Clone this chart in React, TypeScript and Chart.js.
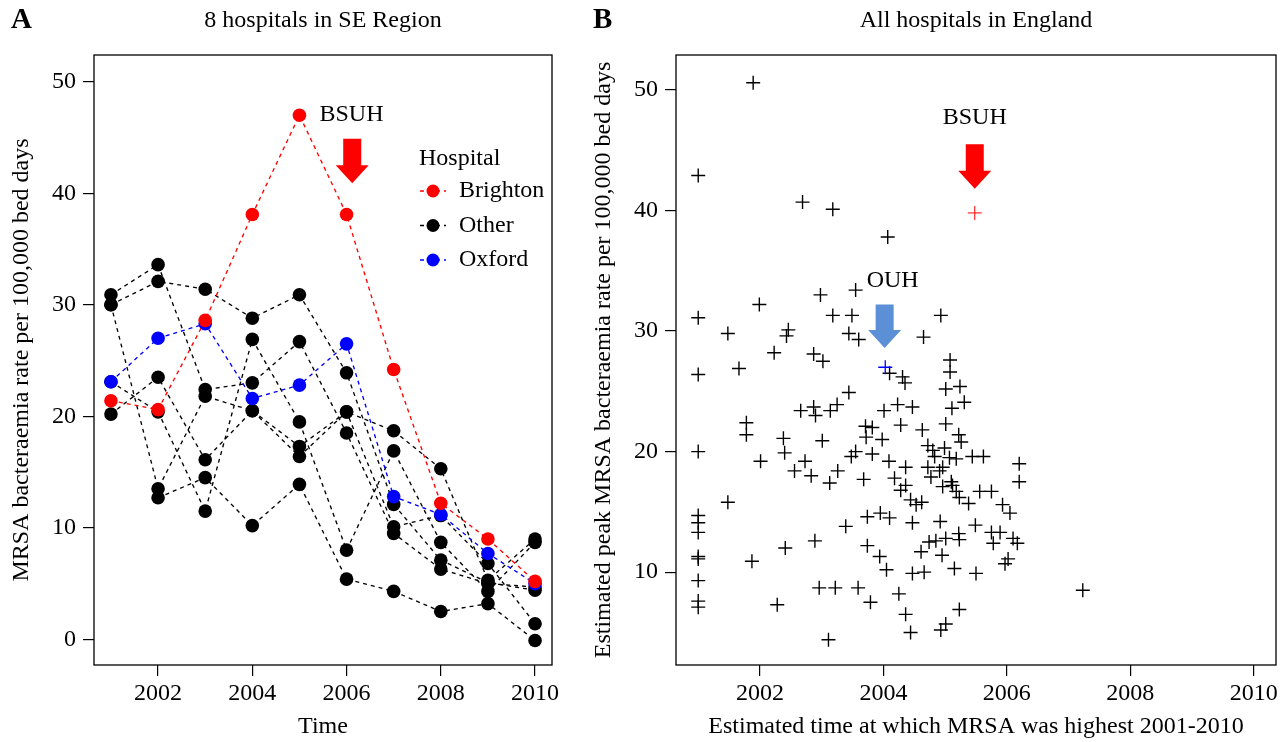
import React, { useEffect, useRef } from 'react';
import { Chart, registerables } from 'chart.js';

Chart.register(...registerables);

const FONT = '"Liberation Serif", "Times New Roman", serif';

// ---------- Panel A data ----------
const years = [2001, 2002, 2003, 2004, 2005, 2006, 2007, 2008, 2009, 2010];
const brighton = [21.4, 20.6, 28.6, 38.1, 47.0, 38.1, 24.2, 12.2, 9.0, 5.2];
const oxford = [23.1, 27.0, 28.3, 21.6, 22.8, 26.5, 12.8, 11.2, 7.7, 5.0];
const other1 = [30.9, 33.6, 22.4, 23.0, 26.7, 18.5, 9.5, 6.3, 5.0, 4.7];
const other2 = [30.0, 32.1, 31.4, 28.8, 30.9, 23.9, 12.1, 7.1, 5.1, 4.4];
const other3 = [30.0, 13.5, 21.8, 20.5, 17.3, 20.4, 18.7, 15.3, 5.3, 9.0];
const other4 = [23.1, 20.4, 11.5, 26.9, 19.5, 8.0, 16.9, 8.7, 4.3, 8.7];
const other5 = [20.2, 23.5, 16.1, 20.5, 16.4, 20.4, 10.1, 11.1, 6.8, 1.4];
const other6 = [null, 12.7, 14.5, 10.2, 13.9, 5.4, 4.3, 2.5, 3.2, -0.1];
const others = [other1, other2, other3, other4, other5, other6];

const xTickValues = [2002, 2004, 2006, 2008, 2010];
const yTicksA = [0, 10, 20, 30, 40, 50];
const yTicksB = [10, 20, 30, 40, 50];

// ---------- Panel B data ----------
const peakTime = [
  2001.89, 2001.0, 2002.69, 2003.18, 2004.07, 2003.55, 2002.98, 2001.99, 2001.0, 2004.93,
  2003.18, 2003.49, 2001.48, 2002.46, 2002.43, 2003.44, 2003.6, 2004.65, 2002.23, 2002.87,
  2003.02, 2005.08, 2004.1, 2004.31, 2004.35, 2001.0, 2001.66, 2005.08, 2005.24, 2005.01,
  2003.44, 2005.31, 2004.23, 2004.47, 2003.25, 2005.11, 2002.87, 2002.66, 2002.9, 2003.14,
  2004.01, 2001.78, 2001.78, 2005.01, 2004.28, 2003.71, 2003.82, 2004.63, 2005.22, 2005.26,
  2003.72, 2003.98, 2002.38, 2003.01, 2004.72, 2004.99, 2004.8, 2001.0, 2002.4, 2003.55,
  2003.82, 2003.48, 2004.83, 2005.07, 2005.18, 2005.44, 2005.62, 2002.01, 2002.73, 2004.09,
  2004.72, 2004.36, 2004.96, 2006.2, 2002.56, 2002.83, 2003.26, 2004.77, 2004.91, 2004.18,
  2003.68, 2003.13, 2006.2, 2005.1, 2005.12, 2004.36, 2004.96, 2004.28, 2005.18, 2005.56,
  2005.75, 2005.23, 2004.44, 2004.62, 2005.38, 2004.53, 2001.48, 2005.93, 2006.05, 2001.0,
  2001.0, 2001.0, 2003.74, 2003.95, 2004.1, 2004.47, 2004.92, 2005.49, 2003.39, 2005.22,
  2005.23, 2005.75, 2005.89, 2006.1, 2006.17, 2005.78, 2005.01, 2004.85, 2004.74, 2002.89,
  2003.74, 2002.41, 2004.61, 2003.94, 2004.95, 2001.0, 2001.0, 2001.87, 2006.02, 2005.97,
  2004.05, 2004.47, 2004.66, 2005.15, 2005.5, 2001.0, 2002.96, 2003.22, 2003.59, 2004.25,
  2001.0, 2001.0, 2002.28, 2003.79, 2005.23, 2004.36, 2005.01, 2004.93, 2004.44, 2003.11,
  2007.23,
];
const peakRate = [
  50.6, 42.9, 40.7, 40.1, 37.8, 33.4, 33.0, 32.2, 31.1, 31.3,
  31.3, 31.3, 29.8, 30.1, 29.6, 29.8, 29.3, 29.5, 28.2, 28.1,
  27.5, 27.6, 26.5, 26.2, 25.7, 26.4, 26.9, 26.6, 25.4, 25.2,
  24.9, 24.1, 23.9, 23.7, 23.9, 23.6, 23.7, 23.4, 23.0, 23.4,
  23.4, 22.4, 21.4, 22.3, 22.2, 22.1, 22.0, 21.8, 21.4, 20.8,
  21.2, 21.0, 21.1, 20.9, 20.5, 20.3, 20.1, 20.0, 19.9, 20.0,
  19.8, 19.6, 19.6, 19.5, 19.4, 19.6, 19.6, 19.2, 19.2, 19.2,
  18.7, 18.7, 18.7, 19.0, 18.4, 18.0, 18.4, 17.9, 18.4, 17.8,
  17.7, 17.4, 17.5, 17.5, 17.2, 17.2, 17.1, 16.8, 16.7, 16.7,
  16.7, 16.2, 16.0, 15.8, 15.7, 15.6, 15.8, 15.6, 14.9, 14.7,
  14.1, 13.3, 14.6, 14.9, 14.5, 14.1, 14.2, 13.9, 13.8, 13.2,
  12.7, 13.3, 13.3, 12.8, 12.4, 12.4, 12.8, 12.6, 12.5, 12.6,
  12.2, 12.0, 11.7, 11.3, 11.4, 11.3, 11.1, 10.9, 11.1, 10.7,
  10.2, 9.9, 10.0, 10.3, 9.9, 9.3, 8.7, 8.7, 8.7, 8.2,
  7.6, 7.1, 7.3, 7.5, 6.9, 6.5, 5.7, 5.2, 5.0, 4.4,
  8.5,
];
const bsuhPeak = { x: 2005.48, y: 39.8 };
const ouhPeak = { x: 2004.03, y: 27.0 };

// annotation anchors (data units)
const annA = { labelX: 2005, labelY: 47.0, arrowX: 2006.12, arrowTop: 44.9, arrowTip: 40.9 };
const annB = {
  bsuhLabel: { x: 2005.48, y: 47.7 }, bsuhArrow: { x: 2005.48, top: 45.5, tip: 41.8 },
  ouhLabel: { x: 2004.15, y: 34.2 }, ouhArrow: { x: 2004.02, top: 32.2, tip: 28.6 },
};

function drawArrow(ctx: CanvasRenderingContext2D, x: number, yTop: number, yTip: number, color: string) {
  const shaft = 9, head = 16.5, headLen = 18;
  ctx.beginPath();
  ctx.moveTo(x - shaft, yTop);
  ctx.lineTo(x + shaft, yTop);
  ctx.lineTo(x + shaft, yTip - headLen);
  ctx.lineTo(x + head, yTip - headLen);
  ctx.lineTo(x, yTip);
  ctx.lineTo(x - head, yTip - headLen);
  ctx.lineTo(x - shaft, yTip - headLen);
  ctx.closePath();
  ctx.fillStyle = color;
  ctx.fill();
}

function baseScales(xTitle: string, yTitle: string, yMin: number, yMax: number, yTicks: number[], yWidth: number, yTitlePad: number) {
  const tickFont = { family: FONT, size: 24, lineHeight: 1.2 };
  const titleFont = { family: FONT, size: 24, lineHeight: 1 };
  const grid = { display: true, drawOnChartArea: false, drawTicks: true, tickLength: 11, color: '#000', lineWidth: 1.2 };
  return {
    x: {
      type: 'linear', min: 2000.64, max: 2010.36,
      afterBuildTicks: (s: any) => { s.ticks = xTickValues.map((v) => ({ value: v })); },
      afterFit: (s: any) => { s.height = 77; },
      grid, border: { display: false },
      ticks: { color: '#000', font: tickFont, padding: 3, maxRotation: 0, autoSkip: false, callback: (v: any) => String(v) },
      title: { display: true, text: xTitle, color: '#000', font: titleFont, padding: { top: 0, bottom: 3 } },
    },
    y: {
      type: 'linear', min: yMin, max: yMax,
      afterBuildTicks: (s: any) => { s.ticks = yTicks.map((v) => ({ value: v })); },
      afterFit: (s: any) => { s.width = yWidth; },
      grid, border: { display: false },
      ticks: { color: '#000', font: tickFont, padding: 7, callback: (v: any) => String(v) },
      title: { display: true, text: yTitle, color: '#000', font: titleFont, padding: { top: yTitlePad, bottom: 0 } },
    },
  };
}

function PanelA() {
  const ref = useRef<HTMLCanvasElement>(null);
  useEffect(() => {
    const mk = (arr: (number | null)[], color: string, label: string) => ({
      label,
      data: years.map((x, i) => ({ x, y: arr[i] })),
      borderColor: color, backgroundColor: color, borderWidth: 1.35, borderDash: [4, 4],
      pointRadius: 6.8, pointBorderWidth: 0, pointBackgroundColor: color, pointHoverRadius: 6.8,
      tension: 0, spanGaps: false,
    });
    const overlay = {
      id: 'overlayA',
      afterDraw(chart: any) {
        const { ctx, chartArea: ca, scales } = chart;
        const xs = scales.x, ys = scales.y;
        ctx.save();
        ctx.strokeStyle = '#000';
        ctx.lineWidth = 1.3;
        ctx.setLineDash([]);
        ctx.strokeRect(ca.left, ca.top, ca.right - ca.left, ca.bottom - ca.top);
        ctx.fillStyle = '#000';
        ctx.textBaseline = 'middle';
        ctx.font = `24px ${FONT}`;
        ctx.textAlign = 'center';
        ctx.fillText('8 hospitals in SE Region', (ca.left + ca.right) / 2, 21);
        ctx.font = `bold 29px ${FONT}`;
        ctx.textAlign = 'left';
        ctx.fillText('A', 11, 21);
        // BSUH label
        ctx.font = `24px ${FONT}`;
        ctx.fillText('BSUH', xs.getPixelForValue(annA.labelX) + 20, ys.getPixelForValue(annA.labelY) - 1);
        drawArrow(ctx, xs.getPixelForValue(annA.arrowX), ys.getPixelForValue(annA.arrowTop), ys.getPixelForValue(annA.arrowTip), '#FF0000');
        // legend
        const lx = ca.right - 133;
        ctx.fillStyle = '#000';
        ctx.fillText('Hospital', lx, ca.top + 103.5);
        const items: [string, string][] = [['Brighton', '#FF0000'], ['Other', '#000000'], ['Oxford', '#0000FF']];
        items.forEach(([name, color], i) => {
          const y = ca.top + 136 + i * 34.5;
          ctx.strokeStyle = color;
          ctx.lineWidth = 1.3;
          ctx.setLineDash([4, 4]);
          ctx.beginPath();
          ctx.moveTo(lx + 1, y);
          ctx.lineTo(lx + 27, y);
          ctx.stroke();
          ctx.setLineDash([]);
          ctx.fillStyle = color;
          ctx.beginPath();
          ctx.arc(lx + 14, y, 6.5, 0, Math.PI * 2);
          ctx.fill();
          ctx.fillStyle = '#000';
          ctx.fillText(name, lx + 40, y);
        });
        ctx.restore();
      },
    };
    const chart = new Chart(ref.current!, {
      type: 'line',
      data: {
        datasets: [
          mk(brighton, '#FF0000', 'Brighton'),
          mk(oxford, '#0000FF', 'Oxford'),
          ...others.map((o, i) => mk(o, '#000000', 'Other ' + (i + 1))),
        ],
      },
      options: {
        animation: false,
        responsive: false,
        events: [],
        layout: { padding: { left: 0, top: 55, right: 40, bottom: 0 } },
        plugins: { legend: { display: false }, tooltip: { enabled: false }, title: { display: false } },
        scales: baseScales('Time', 'MRSA bacteraemia rate per 100,000 bed days', -2.3, 52.4, yTicksA, 94, 10) as any,
      },
      plugins: [overlay],
    } as any);
    return () => chart.destroy();
  }, []);
  return <canvas ref={ref} width={592} height={742} style={{ position: 'absolute', left: 0, top: 0, width: 592, height: 742 }} />;
}

function PanelB() {
  const ref = useRef<HTMLCanvasElement>(null);
  useEffect(() => {
    const mk = (pts: { x: number; y: number }[], color: string, label: string, bw: number) => ({
      label, data: pts, pointStyle: 'cross', pointRadius: 7, pointHoverRadius: 7,
      borderColor: color, backgroundColor: color, pointBorderColor: color, pointBorderWidth: bw, borderWidth: bw,
    });
    const overlay = {
      id: 'overlayB',
      afterDraw(chart: any) {
        const { ctx, chartArea: ca, scales } = chart;
        const xs = scales.x, ys = scales.y;
        ctx.save();
        ctx.strokeStyle = '#000';
        ctx.lineWidth = 1.3;
        ctx.strokeRect(ca.left, ca.top, ca.right - ca.left, ca.bottom - ca.top);
        ctx.fillStyle = '#000';
        ctx.textBaseline = 'middle';
        ctx.font = `24px ${FONT}`;
        ctx.textAlign = 'center';
        ctx.fillText('All hospitals in England', (ca.left + ca.right) / 2, 21);
        ctx.fillText('BSUH', xs.getPixelForValue(annB.bsuhLabel.x), ys.getPixelForValue(annB.bsuhLabel.y));
        ctx.fillText('OUH', xs.getPixelForValue(annB.ouhLabel.x), ys.getPixelForValue(annB.ouhLabel.y));
        ctx.font = `bold 29px ${FONT}`;
        ctx.textAlign = 'left';
        ctx.fillText('B', 5, 21);
        drawArrow(ctx, xs.getPixelForValue(annB.bsuhArrow.x), ys.getPixelForValue(annB.bsuhArrow.top), ys.getPixelForValue(annB.bsuhArrow.tip), '#FF0000');
        drawArrow(ctx, xs.getPixelForValue(annB.ouhArrow.x), ys.getPixelForValue(annB.ouhArrow.top), ys.getPixelForValue(annB.ouhArrow.tip), '#5B90D6');
        ctx.restore();
      },
    };
    const allPts = peakTime.map((x, i) => ({ x, y: peakRate[i] }));
    const chart = new Chart(ref.current!, {
      type: 'scatter',
      data: {
        datasets: [
          mk([bsuhPeak], '#FF0000', 'BSUH', 1),
          mk([ouhPeak], '#0000FF', 'OUH', 1.3),
          mk(allPts, '#000000', 'All hospitals', 1.4),
        ],
      },
      options: {
        animation: false,
        responsive: false,
        events: [],
        layout: { padding: { left: 0, top: 55, right: 9, bottom: 0 } },
        plugins: { legend: { display: false }, tooltip: { enabled: false }, title: { display: false } },
        scales: baseScales('Estimated time at which MRSA was highest 2001-2010', 'Estimated peak MRSA bacteraemia rate per 100,000 bed days', 2.3, 52.9, yTicksB, 88, 4) as any,
      },
      plugins: [overlay],
    } as any);
    return () => chart.destroy();
  }, []);
  return <canvas ref={ref} width={697} height={742} style={{ position: 'absolute', left: 588, top: 0, width: 697, height: 742 }} />;
}

export default function App() {
  return (
    <div style={{ position: 'absolute', left: 0, top: 0, width: 1285, height: 742, background: '#fff', overflow: 'hidden' }}>
      <PanelA />
      <PanelB />
    </div>
  );
}
